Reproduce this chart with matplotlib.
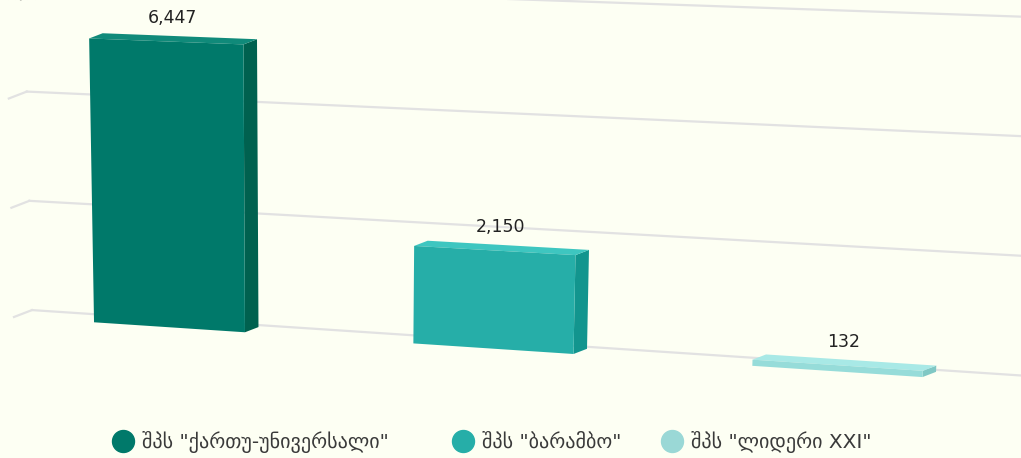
import numpy as np
import matplotlib
matplotlib.use("Agg")
import matplotlib.pyplot as plt
from matplotlib.patches import Polygon

# -----------------------------------------
# Data
# -----------------------------------------
companies = ['შპს "ქართუ-უნივერსალი"', 'შპს "ბარამბო"', 'შპს "ლიდერი XXI"']
values = [6447, 2150, 132]
value_labels = ["6,447", "2,150", "132"]
grid_values = [0, 2500, 5000, 7500]

front_colors = ["#00796a", "#26aea8", "#96dcd9"]
side_colors = ["#00614f", "#12958e", "#80c8c4"]
top_colors = ["#108a7a", "#3ec6c0", "#a8e9e6"]
legend_colors = ["#00796a", "#26aea8", "#9ad8d6"]

# -----------------------------------------
# Simple perspective "camera" (screen pixels)
# -----------------------------------------
ORIGIN = (14.0, 317.0)   # front-left corner of the floor
AX, AY = 305.5, 20.2     # px per category step
BY = -0.0437             # px per value unit
P = -0.0287              # perspective along the category axis
LEAN_CX, LEAN_K = 310.0, 3.5e-6
DEPTH = np.array([13.5, -5.2])
BAR_DEPTH, WALL_DEPTH = 1.0, 1.33
BAR_WIDTH = 0.48


def project(x, v, depth=0.0):
    x = np.asarray(x, dtype=float)
    d = 1 + P * x
    sx = ORIGIN[0] + AX * x / d
    sy = ORIGIN[1] + (AY * x + BY * v) / d
    sx = LEAN_CX + (sx - LEAN_CX) * (1 + LEAN_K * v)
    return sx + DEPTH[0] * depth, sy + DEPTH[1] * depth


fig = plt.figure(figsize=(10.21, 4.58), dpi=100)
fig.patch.set_facecolor("#fdfff3")
ax = fig.add_axes([0, 0, 1, 1])
ax.set_xlim(0, 1021)
ax.set_ylim(458, 0)
ax.axis("off")

# back wall grid lines + left wall segments
grid_color = "#e2e2e2"
for g in grid_values:
    xs = np.linspace(0, 3.1, 60)
    gx, gy = project(xs, g, WALL_DEPTH)
    ax.plot(gx, gy, color=grid_color, lw=1.6, zorder=1)
    fx, fy = project(0, g, 0)
    bx, by = project(0, g, WALL_DEPTH)
    ax.plot([fx, bx], [fy, by], color=grid_color, lw=1.6, zorder=1)

# bars
for i, v in enumerate(values):
    x0 = i + 0.5 - BAR_WIDTH / 2
    x1 = i + 0.5 + BAR_WIDTH / 2
    front = [project(x0, 0), project(x1, 0), project(x1, v), project(x0, v)]
    side = [project(x1, 0), project(x1, 0, BAR_DEPTH),
            project(x1, v, BAR_DEPTH), project(x1, v)]
    top = [project(x0, v), project(x1, v),
           project(x1, v, BAR_DEPTH), project(x0, v, BAR_DEPTH)]
    ax.add_patch(Polygon(side, closed=True, facecolor=side_colors[i], edgecolor="none", zorder=3))
    ax.add_patch(Polygon(top, closed=True, facecolor=top_colors[i], edgecolor="none", zorder=3))
    ax.add_patch(Polygon(front, closed=True, facecolor=front_colors[i], edgecolor="none", zorder=4))

    lx, ly = project(i + 0.5, v, 0.5)
    ax.text(lx, ly - 21, value_labels[i], ha="center", va="center",
            fontsize=12.5, color="#222222", zorder=5)

# legend
legend_x = [123, 463, 672]
for i, name in enumerate(companies):
    ax.scatter(legend_x[i], 441, s=250, color=legend_colors[i], zorder=5)
    ax.text(legend_x[i] + 19, 442, name, ha="left", va="center",
            fontsize=14.5, color="#3a3a3a", zorder=5)

# axis title, mostly cut off at the top (as in the source image)
ax.text(4, 3, "ათას.", ha="left", va="bottom", fontsize=11, color="#555555")

fig.savefig("out.png", dpi=100, facecolor=fig.get_facecolor())
